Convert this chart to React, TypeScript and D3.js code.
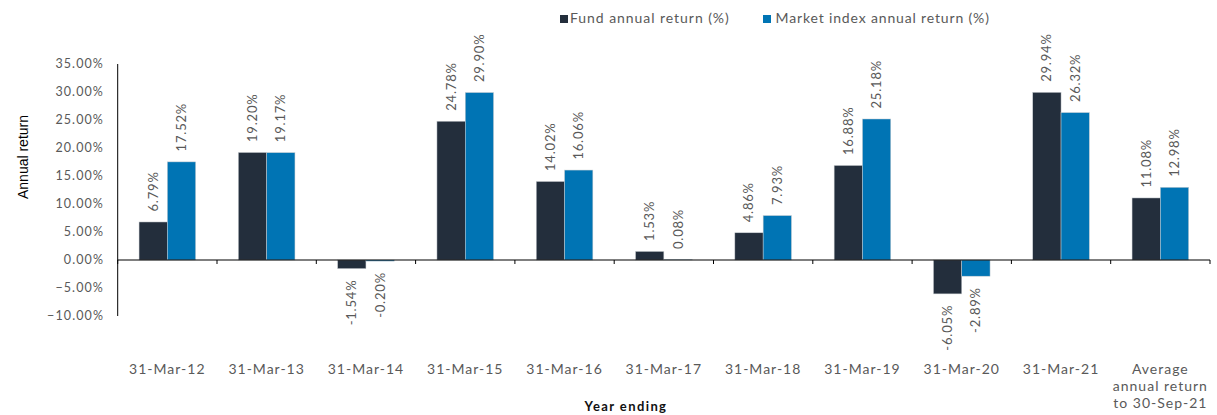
import React from "react";
import * as d3 from "d3";

const categories = ["31-Mar-12","31-Mar-13","31-Mar-14","31-Mar-15","31-Mar-16","31-Mar-17","31-Mar-18","31-Mar-19","31-Mar-20","31-Mar-21","Average annual return to 30-Sep-21"];
const categoryLines = [["31-Mar-12"],["31-Mar-13"],["31-Mar-14"],["31-Mar-15"],["31-Mar-16"],["31-Mar-17"],["31-Mar-18"],["31-Mar-19"],["31-Mar-20"],["31-Mar-21"],["Average","annual return","to 30-Sep-21"]];
const fundReturns = [6.79,19.20,-1.54,24.78,14.02,1.53,4.86,16.88,-6.05,29.94,11.08];
const indexReturns = [17.52,19.17,-0.20,29.90,16.06,0.08,7.93,25.18,-2.89,26.32,12.98];
const yTicks = [35,30,25,20,15,10,5,0,-5,-10];
const seriesNames = ["Fund annual return (%)","Market index annual return (%)"];
const seriesColors = ["#232e3c","#0074b4"];

const W = 1217, H = 415;
const left = 117.7, right = 1210, top = 64, bottom = 316;
const font = "Lato, 'Open Sans', sans-serif";
const textColor = "#595959";

export default function App() {
  const y = d3.scaleLinear().domain([-10, 35]).range([bottom, top]);
  const x = d3.scaleBand<string>().domain(categories).range([left, right]).paddingInner(0).paddingOuter(0);
  const bw = x.bandwidth();
  const groupW = bw * 0.57;
  const barW = groupW / 2;
  const y0 = y(0);
  const series = [fundReturns, indexReturns];

  return (
    <svg width={W} height={H} style={{ position: "absolute", left: 0, top: 0, background: "#fff" }} fontFamily={font}>
      {/* legend */}
      <g>
        <rect x={560} y={15} width={8} height={8} fill={seriesColors[0]} />
        <text x={570} y={23} fontSize={14} letterSpacing={0.95} fill={textColor}>{seriesNames[0]}</text>
        <rect x={763} y={15} width={8} height={8} fill={seriesColors[1]} />
        <text x={775.5} y={23} fontSize={14} letterSpacing={0.85} fill={textColor}>{seriesNames[1]}</text>
      </g>
      {/* y axis */}
      <line x1={left} x2={left} y1={top} y2={bottom} stroke="#000" strokeWidth={1} />
      {yTicks.map((t) => (
        <text key={t} x={104} y={y(t)} dy="0.35em" textAnchor="end" fontSize={12.5} letterSpacing={1.1} fill={textColor}>
          {d3.format(".2f")(t) + "%"}
        </text>
      ))}
      <text transform={`translate(28,157) rotate(-90)`} textAnchor="middle" fontSize={14} fontFamily="'Liberation Sans', Arial, sans-serif" fill="#000">Annual return</text>
      {/* bars */}
      {categories.map((c, i) => {
        const gx = (x(c) as number) + (bw - groupW) / 2;
        return (
          <g key={c}>
            {series.map((s, k) => {
              const v = s[i];
              const bx = gx + k * barW;
              const yv = y(v);
              const yTop = Math.min(yv, y0);
              const h = Math.abs(yv - y0);
              const cx = bx + barW / 2;
              return (
                <g key={k}>
                  <rect x={bx} y={yTop} width={barW} height={h} fill={seriesColors[k]} stroke="#c8ccd0" strokeWidth={0.5} />
                  {v >= 0 ? (
                    <text transform={`translate(${cx + 4.5},${yv - 10.5}) rotate(-90)`} textAnchor="start" fontSize={13} letterSpacing={0.8} fill={textColor}>
                      {d3.format(".2f")(v) + "%"}
                    </text>
                  ) : (
                    <text transform={`translate(${cx + 4.5},${yv + 11}) rotate(-90)`} textAnchor="end" fontSize={13} letterSpacing={0.8} fill={textColor}>
                      {d3.format(".2f")(v).replace("−", "-") + "%"}
                    </text>
                  )}
                </g>
              );
            })}
          </g>
        );
      })}
      {/* x axis */}
      <line x1={left} x2={right} y1={y0} y2={y0} stroke="#000" strokeWidth={1.2} />
      {d3.range(categories.length + 1).map((i) => {
        const tx = left + i * bw;
        return <line key={i} x1={tx} x2={tx} y1={y0} y2={y0 + 4} stroke="#000" strokeWidth={1} />;
      })}
      {categories.map((c, i) => {
        const cx = (x(c) as number) + bw / 2;
        return (
          <text key={c} x={cx} y={374} textAnchor="middle" fontSize={14} letterSpacing={1} fill={textColor}>
            {categoryLines[i].map((l, j) => (
              <tspan key={j} x={cx} dy={j === 0 ? 0 : 17}>{l}</tspan>
            ))}
          </text>
        );
      })}
      <text x={626} y={411} textAnchor="middle" fontSize={13} fontWeight="bold" letterSpacing={1.4} fill="#111">Year ending</text>
    </svg>
  );
}
